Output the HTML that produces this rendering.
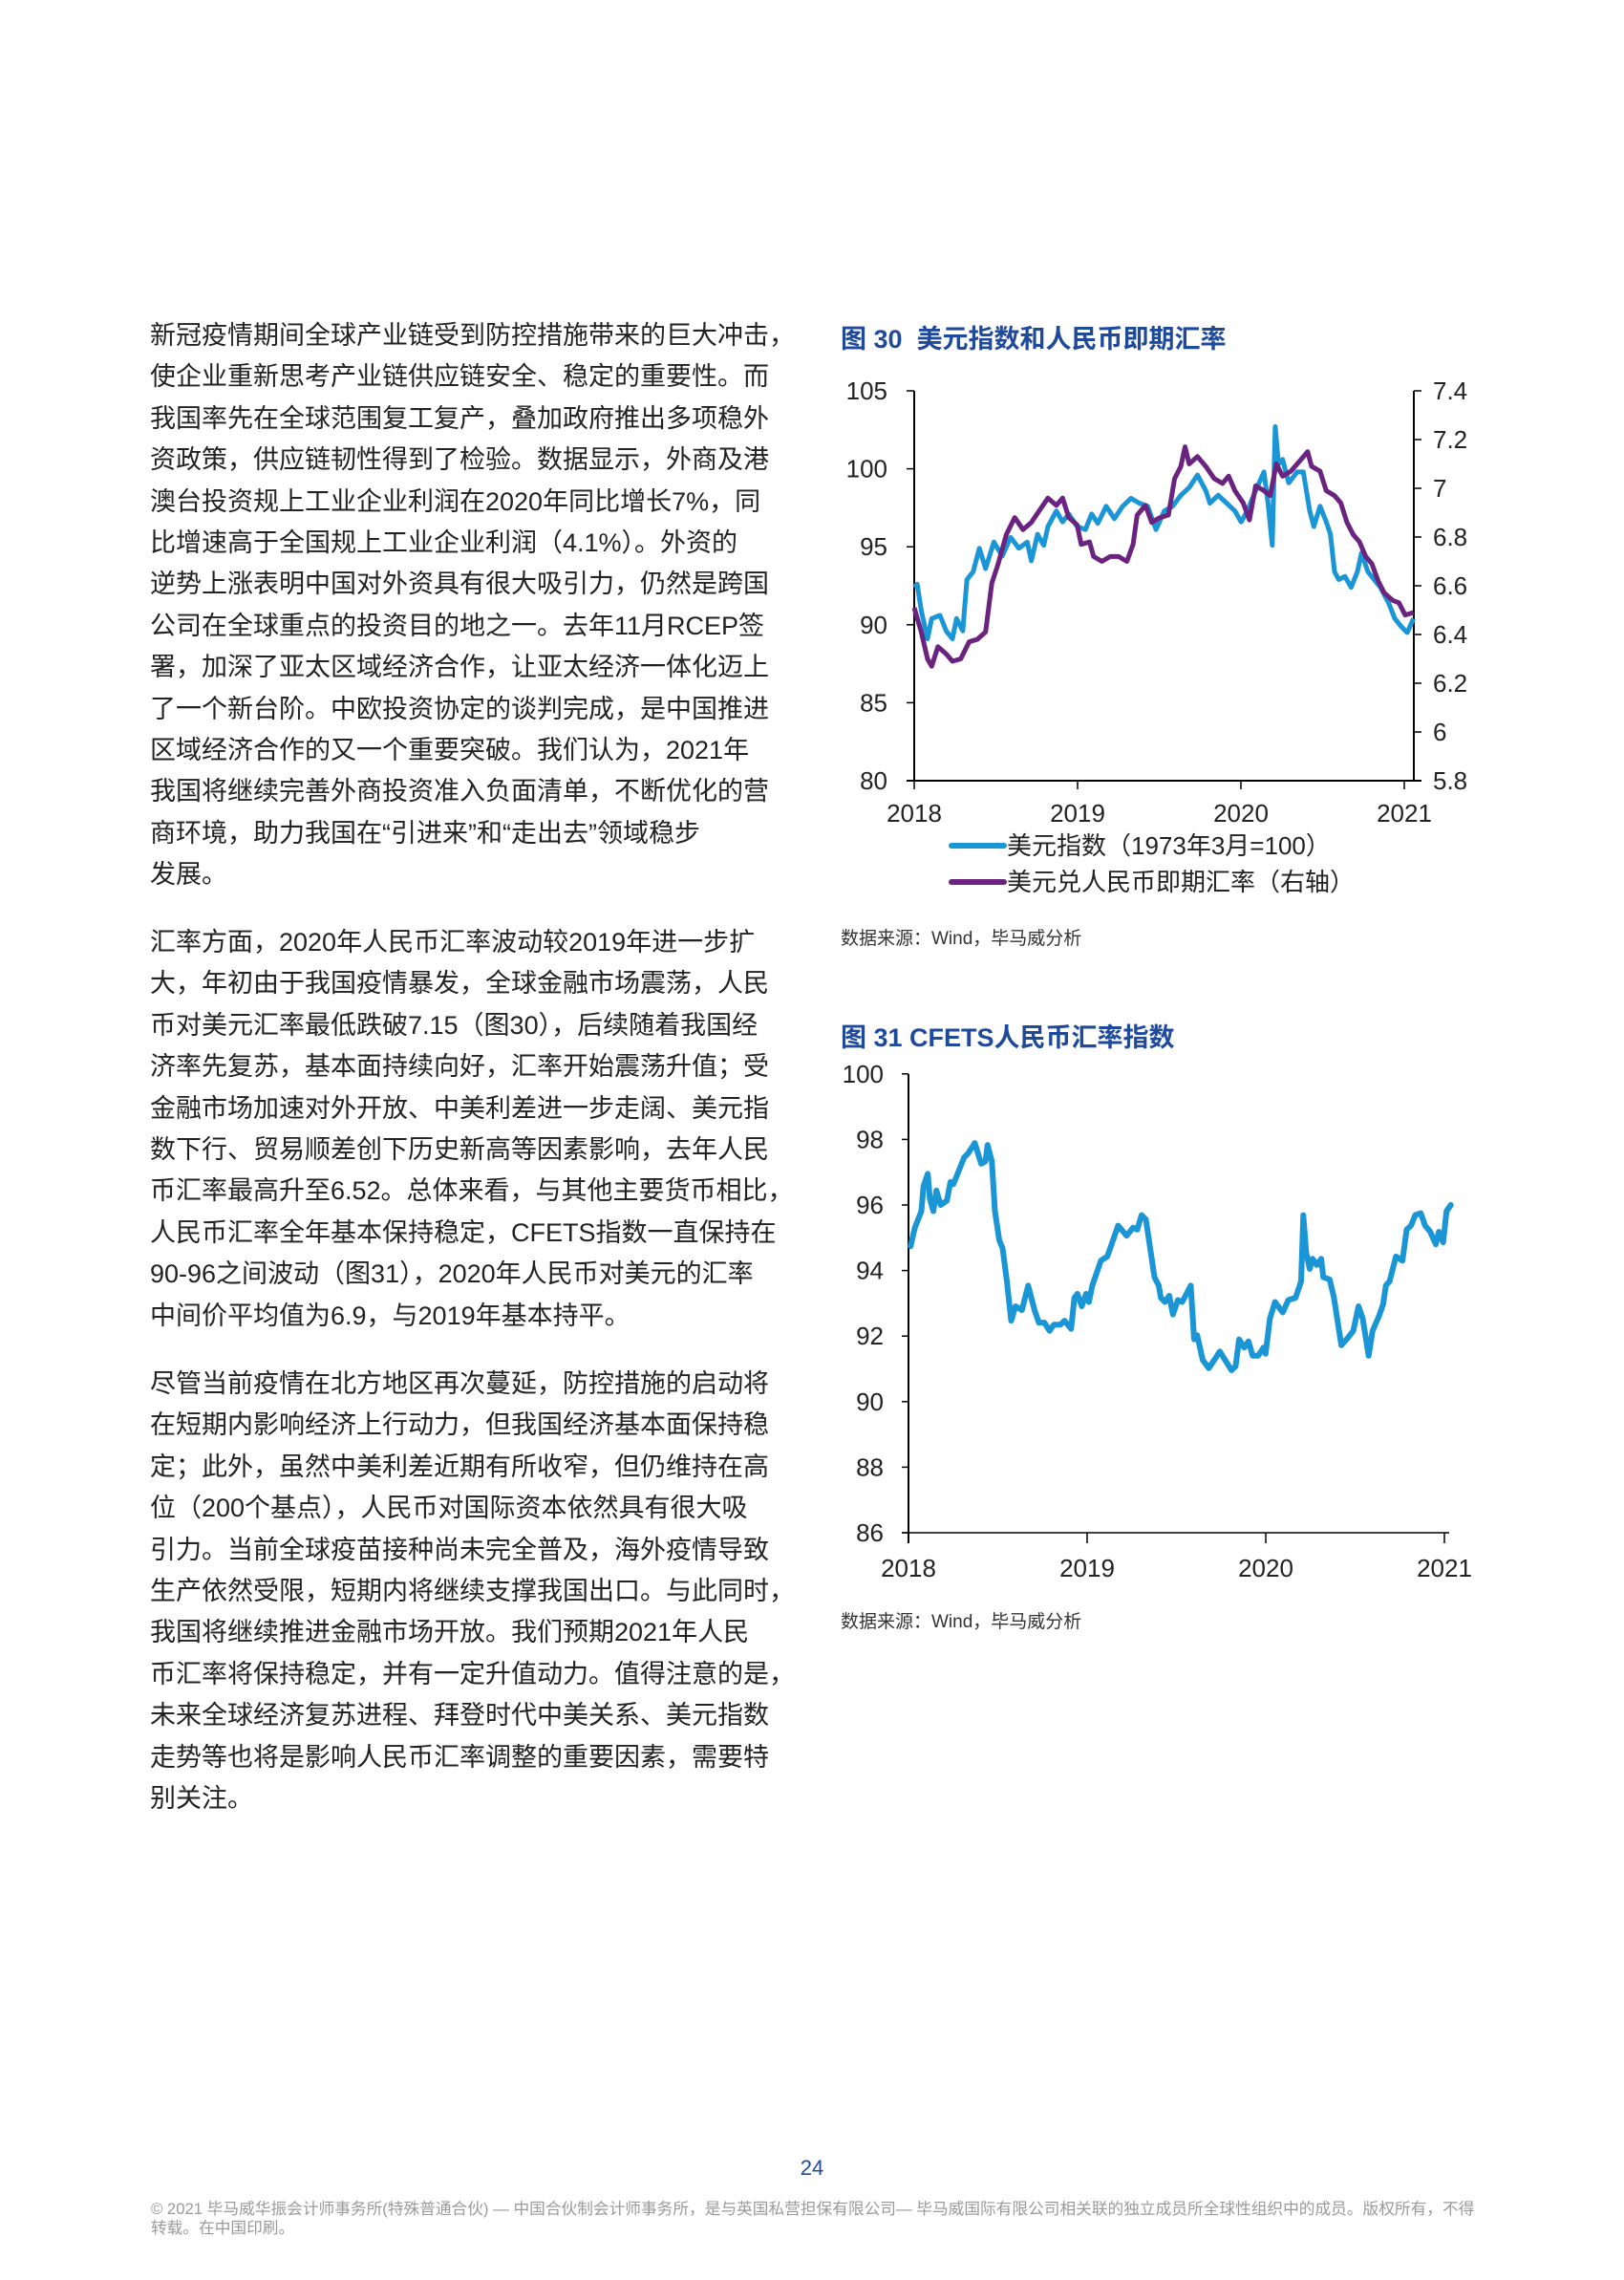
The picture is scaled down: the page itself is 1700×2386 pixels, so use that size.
<!DOCTYPE html>
<html><head><meta charset="utf-8">
<style>
html,body{margin:0;padding:0;background:#fff;}
body{width:1700px;height:2386px;position:relative;overflow:hidden;font-family:"Liberation Sans","Noto Sans CJK SC",sans-serif;color:#222;}
.para{position:absolute;left:157px;font-size:27px;line-height:43.4px;white-space:nowrap;}
.para div{height:43.4px;}
.ttl{position:absolute;left:880px;font-size:27px;font-weight:bold;color:#1f4a9c;white-space:nowrap;}
.src{position:absolute;left:880px;font-size:19px;color:#333;white-space:nowrap;}
.foot{position:absolute;left:158px;font-size:16.7px;color:#9a9a9a;line-height:20px;width:1420px;white-space:nowrap;}
.pg{position:absolute;left:830px;width:40px;text-align:center;top:2256px;font-size:22px;color:#1f4a9c;}
svg text{font-family:"Liberation Sans","Noto Sans CJK SC",sans-serif;}
</style></head><body>

<div class="para" style="top:330px">
<div>新冠疫情期间全球产业链受到防控措施带来的巨大冲击，</div>
<div>使企业重新思考产业链供应链安全、稳定的重要性。而</div>
<div>我国率先在全球范围复工复产，叠加政府推出多项稳外</div>
<div>资政策，供应链韧性得到了检验。数据显示，外商及港</div>
<div>澳台投资规上工业企业利润在2020年同比增长7%，同</div>
<div>比增速高于全国规上工业企业利润（4.1%）。外资的</div>
<div>逆势上涨表明中国对外资具有很大吸引力，仍然是跨国</div>
<div>公司在全球重点的投资目的地之一。去年11月RCEP签</div>
<div>署，加深了亚太区域经济合作，让亚太经济一体化迈上</div>
<div>了一个新台阶。中欧投资协定的谈判完成，是中国推进</div>
<div>区域经济合作的又一个重要突破。我们认为，2021年</div>
<div>我国将继续完善外商投资准入负面清单，不断优化的营</div>
<div>商环境，助力我国在“引进来”和“走出去”领域稳步</div>
<div>发展。</div>
</div>

<div class="para" style="top:965px">
<div>汇率方面，2020年人民币汇率波动较2019年进一步扩</div>
<div>大，年初由于我国疫情暴发，全球金融市场震荡，人民</div>
<div>币对美元汇率最低跌破7.15（图30），后续随着我国经</div>
<div>济率先复苏，基本面持续向好，汇率开始震荡升值；受</div>
<div>金融市场加速对外开放、中美利差进一步走阔、美元指</div>
<div>数下行、贸易顺差创下历史新高等因素影响，去年人民</div>
<div>币汇率最高升至6.52。总体来看，与其他主要货币相比，</div>
<div>人民币汇率全年基本保持稳定，CFETS指数一直保持在</div>
<div>90-96之间波动（图31），2020年人民币对美元的汇率</div>
<div>中间价平均值为6.9，与2019年基本持平。</div>
</div>

<div class="para" style="top:1427px">
<div>尽管当前疫情在北方地区再次蔓延，防控措施的启动将</div>
<div>在短期内影响经济上行动力，但我国经济基本面保持稳</div>
<div>定；此外，虽然中美利差近期有所收窄，但仍维持在高</div>
<div>位（200个基点），人民币对国际资本依然具有很大吸</div>
<div>引力。当前全球疫苗接种尚未完全普及，海外疫情导致</div>
<div>生产依然受限，短期内将继续支撑我国出口。与此同时，</div>
<div>我国将继续推进金融市场开放。我们预期2021年人民</div>
<div>币汇率将保持稳定，并有一定升值动力。值得注意的是，</div>
<div>未来全球经济复苏进程、拜登时代中美关系、美元指数</div>
<div>走势等也将是影响人民币汇率调整的重要因素，需要特</div>
<div>别关注。</div>
</div>

<div class="ttl" style="top:333px">图 30&nbsp; 美元指数和人民币即期汇率</div>
<div class="src" style="top:967px">数据来源：Wind，毕马威分析</div>
<div class="ttl" style="top:1064px">图 31 CFETS人民币汇率指数</div>
<div class="src" style="top:1682px">数据来源：Wind，毕马威分析</div>

<div class="pg">24</div>
<div class="foot" style="top:2302px">© 2021 毕马威华振会计师事务所(特殊普通合伙) — 中国合伙制会计师事务所，是与英国私营担保有限公司— 毕马威国际有限公司相关联的独立成员所全球性组织中的成员。版权所有，不得<br>转载。在中国印刷。</div>

<svg id="svg" width="1700" height="2386" style="position:absolute;left:0;top:0"></svg>

<script>
// ===== Chart 30 data =====
const dxyDates = [0,.018,.043,.081,.107,.158,.196,.234,.259,.297,.323,.361,.399,.437,.488,.539,.590,.641,.692,.717,.755,.793,.819,.870,.908,.946,.997,1.048,1.086,1.124,1.175,1.226,1.276,1.327,1.378,1.429,1.480,1.531,1.582,1.632,1.683,1.734,1.785,1.810,1.861,1.912,1.963,2.001,2.039,2.090,2.141,2.166,2.192,2.210,2.230,2.255,2.293,2.344,2.382,2.421,2.446,2.484,2.522,2.548,2.573,2.599,2.637,2.675,2.713,2.738,2.777,2.815,2.853,2.904,2.942,2.980,3.018,3.056];
const dxyValues = [92.4,92.6,90.9,89.1,90.4,90.6,89.6,89.1,90.4,89.6,92.9,93.4,94.9,93.6,95.3,94.4,95.6,94.9,95.3,94.1,95.8,95.1,96.3,97.3,96.6,97.1,96.3,96.1,97.1,96.5,97.6,96.8,97.6,98.1,97.8,97.6,96.1,97.3,97.6,98.3,98.8,99.6,98.6,97.8,98.3,97.8,97.3,96.6,97.3,98.6,99.8,97.8,95.1,102.7,100.3,100.6,99.1,99.8,99.8,97.3,96.3,97.6,96.6,95.8,93.4,92.9,93.1,92.4,93.4,94.6,93.4,92.9,92.4,91.4,90.4,89.9,89.5,90.4];
const cnyDates = [0,.043,.081,.107,.145,.196,.234,.285,.336,.386,.437,.475,.514,.564,.615,.666,.717,.768,.819,.870,.908,.946,.997,1.022,1.073,1.098,1.149,1.200,1.251,1.302,1.340,1.365,1.416,1.454,1.505,1.556,1.594,1.632,1.658,1.683,1.734,1.785,1.836,1.887,1.925,1.963,2.014,2.052,2.090,2.141,2.179,2.217,2.255,2.306,2.370,2.408,2.433,2.484,2.522,2.573,2.611,2.649,2.688,2.726,2.764,2.802,2.840,2.878,2.929,2.967,3.005,3.056];
const cnyValues = [6.51,6.41,6.30,6.27,6.35,6.32,6.29,6.30,6.37,6.38,6.41,6.61,6.69,6.81,6.88,6.83,6.86,6.91,6.96,6.93,6.96,6.88,6.85,6.77,6.78,6.72,6.70,6.72,6.72,6.70,6.77,6.89,6.93,6.86,6.88,6.89,7.04,7.09,7.17,7.10,7.13,7.09,7.04,7.02,7.05,6.99,6.94,6.87,7.01,6.99,6.97,7.10,7.05,7.07,7.12,7.15,7.09,7.07,6.99,6.97,6.94,6.86,6.81,6.78,6.72,6.69,6.62,6.57,6.54,6.53,6.48,6.49];
const c30LeftTicks = [80,85,90,95,100,105];
const c30RightTicks = ["5.8","6","6.2","6.4","6.6","6.8","7","7.2","7.4"];
const yearLabels = ["2018","2019","2020","2021"];

// ===== Chart 31 data =====
const cfetsDates = [.012,.036,.072,.084,.108,.120,.139,.156,.180,.215,.235,.251,.275,.311,.335,.371,.407,.431,.443,.467,.484,.508,.527,.551,.575,.599,.635,.670,.706,.730,.761,.790,.814,.850,.874,.910,.929,.946,.970,.994,1.010,1.029,1.053,1.077,1.113,1.137,1.173,1.221,1.257,1.281,1.305,1.329,1.353,1.377,1.401,1.413,1.436,1.460,1.480,1.508,1.532,1.556,1.580,1.599,1.616,1.647,1.681,1.712,1.743,1.772,1.808,1.831,1.851,1.879,1.903,1.927,1.958,1.987,1.999,2.023,2.052,2.095,2.126,2.167,2.198,2.210,2.226,2.246,2.262,2.286,2.310,2.322,2.358,2.382,2.423,2.454,2.490,2.519,2.543,2.576,2.598,2.633,2.657,2.672,2.693,2.729,2.765,2.789,2.813,2.837,2.868,2.892,2.921,2.952,2.969,2.993,3.012,3.036];
const cfetsValues = [94.74,95.31,95.81,96.57,96.95,96.19,95.81,96.44,96.00,96.13,96.70,96.63,96.95,97.45,97.58,97.89,97.26,97.33,97.83,97.33,95.81,94.93,94.68,93.67,92.47,92.91,92.79,93.54,92.79,92.41,92.41,92.16,92.35,92.35,92.47,92.22,93.17,93.29,92.91,93.29,93.04,93.54,93.92,94.30,94.43,94.80,95.37,95.06,95.31,95.25,95.69,95.56,94.68,93.80,93.54,93.17,93.04,93.23,92.66,93.10,93.04,93.29,93.54,91.90,92.03,91.27,91.02,91.27,91.53,91.27,90.96,91.08,91.90,91.65,91.84,91.40,91.40,91.65,91.46,92.53,93.04,92.72,93.10,93.17,93.67,95.69,94.55,94.05,94.36,94.17,94.36,93.80,93.73,93.17,91.72,91.91,92.16,92.91,92.53,91.40,92.16,92.60,92.98,93.54,93.67,94.43,94.30,95.25,95.37,95.69,95.75,95.37,95.18,94.80,95.18,94.86,95.81,96.00];
const c31Ticks = [86,88,90,92,94,96,98,100];

const NS = "http://www.w3.org/2000/svg";
const svg = document.getElementById('svg');
function mk(tag, attrs, parent){
  const e = document.createElementNS(NS, tag);
  for (const k in attrs) e.setAttribute(k, attrs[k]);
  (parent||svg).appendChild(e);
  return e;
}

// ---- Chart 30 ----
const g30 = mk('g', {});


const x30 = t => 957 + t * 171;
const yL30 = v => 817 - (v - 80) * (408 / 25);
const yR30 = v => 817 - (v - 5.8) * (408 / 1.6);

let ax = mk('line', {x1:957,y1:409,x2:957,y2:817,stroke:'#000','stroke-width':2}, g30);


ax = mk('line', {x1:1480,y1:409,x2:1480,y2:817,stroke:'#000','stroke-width':2}, g30);


ax = mk('line', {x1:949,y1:817,x2:1488,y2:817,stroke:'#000','stroke-width':2}, g30);



c30LeftTicks.forEach(v => {
  const y = yL30(v);
  mk('line', {x1:949,y1:y,x2:957,y2:y,stroke:'#000','stroke-width':1.5}, g30);
  const t = mk('text', {x:929,y:y+9,'text-anchor':'end','font-size':26,fill:'#222'}, g30);
  t.textContent = v;
  
  
});
c30RightTicks.forEach(s => {
  const y = yR30(parseFloat(s));
  mk('line', {x1:1480,y1:y,x2:1488,y2:y,stroke:'#000','stroke-width':1.5}, g30);
  const t = mk('text', {x:1500,y:y+9,'font-size':26,fill:'#222'}, g30);
  t.textContent = s;
  
  
});
yearLabels.forEach((s, i) => {
  const x = x30(i);
  mk('line', {x1:x,y1:817,x2:x,y2:826,stroke:'#000','stroke-width':1.5}, g30);
  const t = mk('text', {x:x,y:860,'text-anchor':'middle','font-size':26,fill:'#222'}, g30);
  t.textContent = s;
  
  
});

let p = mk('polyline', {points: dxyDates.map((d,i)=>x30(d).toFixed(1)+','+yL30(dxyValues[i]).toFixed(1)).join(' '), fill:'none', stroke:'#1a96d6', 'stroke-width':5, 'stroke-linejoin':'round'}, g30);


p = mk('polyline', {points: cnyDates.map((d,i)=>x30(d).toFixed(1)+','+yR30(cnyValues[i]).toFixed(1)).join(' '), fill:'none', stroke:'#6b2380', 'stroke-width':5, 'stroke-linejoin':'round'}, g30);



// legend
let lg = mk('line', {x1:996,y1:885,x2:1051,y2:885,stroke:'#1a96d6','stroke-width':6,'stroke-linecap':'round'}, g30);


let lt = mk('text', {x:1054,y:894,'font-size':26,fill:'#222'}, g30);
lt.textContent = '美元指数（1973年3月=100）';


lg = mk('line', {x1:996,y1:923,x2:1051,y2:923,stroke:'#6b2380','stroke-width':6,'stroke-linecap':'round'}, g30);


lt = mk('text', {x:1054,y:932,'font-size':26,fill:'#222'}, g30);
lt.textContent = '美元兑人民币即期汇率（右轴）';



// ---- Chart 31 ----
const g31 = mk('g', {});


const x31 = t => 951 + t * 187;
const y31 = v => 1604 - (v - 86) * 34.3;

ax = mk('line', {x1:951,y1:1124,x2:951,y2:1615,stroke:'#000','stroke-width':2}, g31);


ax = mk('line', {x1:944,y1:1604,x2:1517,y2:1604,stroke:'#000','stroke-width':1.5}, g31);


c31Ticks.forEach(v => {
  const y = y31(v);
  mk('line', {x1:944,y1:y,x2:951,y2:y,stroke:'#000','stroke-width':1.5}, g31);
  const t = mk('text', {x:925,y:y+9,'text-anchor':'end','font-size':26,fill:'#222'}, g31);
  t.textContent = v;
  
  
});
yearLabels.forEach((s, i) => {
  const x = x31(i);
  mk('line', {x1:x,y1:1604,x2:x,y2:1615,stroke:'#000','stroke-width':1.5}, g31);
  const t = mk('text', {x:x,y:1650,'text-anchor':'middle','font-size':26,fill:'#222'}, g31);
  t.textContent = s;
  
  
});
p = mk('polyline', {points: cfetsDates.map((d,i)=>x31(d).toFixed(1)+','+y31(cfetsValues[i]).toFixed(1)).join(' '), fill:'none', stroke:'#1a96d6', 'stroke-width':6, 'stroke-linejoin':'round','stroke-linecap':'round'}, g31);


</script>
</body></html>
